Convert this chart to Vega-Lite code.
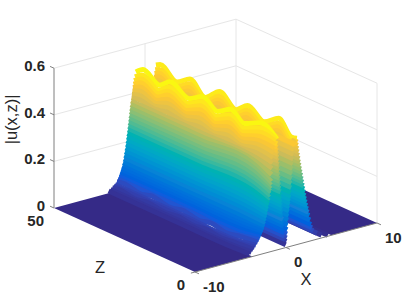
{"$schema":"https://vega.github.io/schema/vega-lite/v6.json","width":407,"height":303,"padding":0,"autosize":"none","background":"white","config":{"view":{"stroke":null}},
"datasets":{
"walls":[{"id":"w1","X":-10,"Z":50,"u":0.6},{"id":"w1","X":10,"Z":50,"u":0.6},{"id":"w2","X":-10,"Z":50,"u":0.4},{"id":"w2","X":10,"Z":50,"u":0.4},{"id":"w3","X":-10,"Z":50,"u":0.2},{"id":"w3","X":10,"Z":50,"u":0.2},{"id":"w4","X":10,"Z":50,"u":0.6},{"id":"w4","X":10,"Z":0,"u":0.6},{"id":"w5","X":10,"Z":50,"u":0.4},{"id":"w5","X":10,"Z":0,"u":0.4},{"id":"w6","X":10,"Z":50,"u":0.2},{"id":"w6","X":10,"Z":0,"u":0.2},{"id":"v1","X":0,"Z":50,"u":0},{"id":"v1","X":0,"Z":50,"u":0.6},{"id":"v2","X":10,"Z":50,"u":0},{"id":"v2","X":10,"Z":50,"u":0.6},{"id":"v3","X":10,"Z":0,"u":0},{"id":"v3","X":10,"Z":0,"u":0.6}],
"axes":[{"id":"a1","X":-10,"Z":50,"u":0},{"id":"a1","X":-10,"Z":50,"u":0.6},{"id":"a2","X":-10,"Z":0,"u":0},{"id":"a2","X":10,"Z":0,"u":0},{"id":"t1","X":-10,"Z":50,"u":0},{"id":"t1","X":-10,"Z":51.4,"u":0},{"id":"t2","X":-10,"Z":50,"u":0.2},{"id":"t2","X":-10,"Z":51.4,"u":0.2},{"id":"t3","X":-10,"Z":50,"u":0.4},{"id":"t3","X":-10,"Z":51.4,"u":0.4},{"id":"t4","X":-10,"Z":50,"u":0.6},{"id":"t4","X":-10,"Z":51.4,"u":0.6},{"id":"t5","X":-10,"Z":0,"u":0},{"id":"t5","X":-10.45,"Z":0,"u":0},{"id":"t6","X":-10,"Z":0,"u":0},{"id":"t6","X":-10,"Z":-1.4,"u":0},{"id":"t7","X":0,"Z":0,"u":0},{"id":"t7","X":0,"Z":-1.4,"u":0},{"id":"t8","X":10,"Z":0,"u":0},{"id":"t8","X":10,"Z":-1.4,"u":0}],
"floor":[{"s":"far","n":1,"X":10,"Z":0,"u":0},{"s":"far","n":2,"X":10,"Z":50,"u":0},{"s":"far","n":3,"X":5,"Z":50,"u":0},{"s":"far","n":4,"X":5,"Z":0,"u":0},{"s":"near","n":1,"X":-3.7,"Z":0,"u":0},{"s":"near","n":2,"X":-3.7,"Z":50,"u":0},{"s":"near","n":3,"X":-10,"Z":50,"u":0},{"s":"near","n":4,"X":-10,"Z":0,"u":0}],
"surf":[
{"X":4.6,"Z":25,"u":0.004},{"X":4.6,"Z":0,"u":0.004},{"X":3.9,"Z":25,"u":0.012},{"X":3.9,"Z":0,"u":0.012},{"X":3.4,"Z":25,"u":0.025},{"X":3.4,"Z":0,"u":0.025},{"X":3,"Z":25,"u":0.04},{"X":3,"Z":0,"u":0.04},{"X":2.85,"Z":25,"u":0.055},{"X":2.85,"Z":0,"u":0.055},{"X":2.75,"Z":25,"u":0.07},{"X":2.75,"Z":0,"u":0.07},{"X":2.65,"Z":25,"u":0.09},{"X":2.65,"Z":0,"u":0.09},{"X":2.55,"Z":25,"u":0.11},{"X":2.55,"Z":0,"u":0.11},{"X":2.47,"Z":25,"u":0.125},{"X":2.47,"Z":0,"u":0.125},{"X":2.4,"Z":25,"u":0.14},{"X":2.4,"Z":0,"u":0.14},{"X":2.32,"Z":25,"u":0.155},{"X":2.32,"Z":0,"u":0.155},{"X":2.25,"Z":25,"u":0.17},{"X":2.25,"Z":0,"u":0.17},{"X":2.18,"Z":25,"u":0.185},{"X":2.18,"Z":0,"u":0.185},{"X":2.12,"Z":25,"u":0.2},{"X":2.12,"Z":0,"u":0.2},{"X":2.06,"Z":25,"u":0.215},{"X":2.06,"Z":0,"u":0.215},{"X":2,"Z":25,"u":0.23},{"X":2,"Z":0,"u":0.23},{"X":1.94,"Z":25,"u":0.245},{"X":1.94,"Z":0,"u":0.245},{"X":1.88,"Z":25,"u":0.26},{"X":1.88,"Z":0,"u":0.26},{"X":1.82,"Z":25,"u":0.275},{"X":1.82,"Z":0,"u":0.275},{"X":1.76,"Z":25,"u":0.29},{"X":1.76,"Z":0,"u":0.29},{"X":1.7,"Z":25,"u":0.305},{"X":1.7,"Z":0,"u":0.305},{"X":1.64,"Z":25,"u":0.32},{"X":1.64,"Z":0,"u":0.32},{"X":1.58,"Z":25,"u":0.335},{"X":1.58,"Z":0,"u":0.335},{"X":1.52,"Z":25,"u":0.35},{"X":1.52,"Z":0,"u":0.35},{"X":1.47,"Z":25,"u":0.365},{"X":1.47,"Z":0,"u":0.365},{"X":1.42,"Z":25,"u":0.38},{"X":1.42,"Z":0,"u":0.38},{"X":1.375,"Z":25,"u":0.395},{"X":1.375,"Z":0,"u":0.395},{"X":1.33,"Z":25,"u":0.41},{"X":1.33,"Z":0,"u":0.41},{"X":1.29,"Z":25,"u":0.425},{"X":1.29,"Z":0,"u":0.425},{"X":1.25,"Z":25,"u":0.44},{"X":1.25,"Z":0,"u":0.44},
{"X":1.2,"Z":50,"u":0.496},{"X":1.2,"Z":48.5,"u":0.506},{"X":1.2,"Z":42.5,"u":0.464},{"X":1.2,"Z":38,"u":0.502},{"X":1.2,"Z":32.5,"u":0.453},{"X":1.2,"Z":27.5,"u":0.506},{"X":1.2,"Z":21.5,"u":0.461},{"X":1.2,"Z":17.5,"u":0.501},{"X":1.2,"Z":11.5,"u":0.464},{"X":1.2,"Z":6.5,"u":0.506},{"X":1.2,"Z":2,"u":0.451},{"X":1.2,"Z":0,"u":0.456},
{"X":1.125,"Z":50,"u":0.476},{"X":1.125,"Z":48.5,"u":0.486},{"X":1.125,"Z":42.5,"u":0.444},{"X":1.125,"Z":38,"u":0.482},{"X":1.125,"Z":32.5,"u":0.433},{"X":1.125,"Z":27.5,"u":0.486},{"X":1.125,"Z":21.5,"u":0.441},{"X":1.125,"Z":17.5,"u":0.481},{"X":1.125,"Z":11.5,"u":0.444},{"X":1.125,"Z":6.5,"u":0.486},{"X":1.125,"Z":2,"u":0.436},{"X":1.125,"Z":0,"u":0.45},
{"X":1.05,"Z":50,"u":0.461},{"X":1.05,"Z":48.5,"u":0.471},{"X":1.05,"Z":42.5,"u":0.429},{"X":1.05,"Z":38,"u":0.467},{"X":1.05,"Z":32.5,"u":0.418},{"X":1.05,"Z":27.5,"u":0.471},{"X":1.05,"Z":21.5,"u":0.426},{"X":1.05,"Z":17.5,"u":0.466},{"X":1.05,"Z":11.5,"u":0.429},{"X":1.05,"Z":6.5,"u":0.471},{"X":1.05,"Z":2,"u":0.42},{"X":1.05,"Z":0,"u":0.445},
{"X":1,"Z":50,"u":0.446},{"X":1,"Z":48.5,"u":0.456},{"X":1,"Z":42.5,"u":0.414},{"X":1,"Z":38,"u":0.452},{"X":1,"Z":32.5,"u":0.403},{"X":1,"Z":27.5,"u":0.456},{"X":1,"Z":21.5,"u":0.411},{"X":1,"Z":17.5,"u":0.451},{"X":1,"Z":11.5,"u":0.414},{"X":1,"Z":6.5,"u":0.456},{"X":1,"Z":2,"u":0.41},{"X":1,"Z":0,"u":0.45},
{"X":0.95,"Z":50,"u":0.431},{"X":0.95,"Z":48.5,"u":0.441},{"X":0.95,"Z":42.5,"u":0.399},{"X":0.95,"Z":38,"u":0.437},{"X":0.95,"Z":32.5,"u":0.388},{"X":0.95,"Z":27.5,"u":0.441},{"X":0.95,"Z":21.5,"u":0.396},{"X":0.95,"Z":17.5,"u":0.436},{"X":0.95,"Z":11.5,"u":0.399},{"X":0.95,"Z":6.5,"u":0.441},{"X":0.95,"Z":2,"u":0.42},{"X":0.95,"Z":0,"u":0.455},
{"X":0.9,"Z":25,"u":0.435},{"X":0.9,"Z":0,"u":0.435},{"X":0.85,"Z":25,"u":0.41},{"X":0.85,"Z":0,"u":0.41},{"X":0.81,"Z":25,"u":0.39},{"X":0.81,"Z":0,"u":0.39},{"X":0.77,"Z":25,"u":0.37},{"X":0.77,"Z":0,"u":0.37},{"X":0.735,"Z":25,"u":0.35},{"X":0.735,"Z":0,"u":0.35},{"X":0.7,"Z":25,"u":0.33},{"X":0.7,"Z":0,"u":0.33},{"X":0.66,"Z":25,"u":0.31},{"X":0.66,"Z":0,"u":0.31},{"X":0.62,"Z":25,"u":0.29},{"X":0.62,"Z":0,"u":0.29},{"X":0.585,"Z":25,"u":0.27},{"X":0.585,"Z":0,"u":0.27},{"X":0.55,"Z":25,"u":0.25},{"X":0.55,"Z":0,"u":0.25},{"X":0.51,"Z":25,"u":0.23},{"X":0.51,"Z":0,"u":0.23},{"X":0.47,"Z":25,"u":0.21},{"X":0.47,"Z":0,"u":0.21},{"X":0.425,"Z":25,"u":0.195},{"X":0.425,"Z":0,"u":0.195},{"X":0.38,"Z":25,"u":0.18},{"X":0.38,"Z":0,"u":0.18},{"X":0.34,"Z":25,"u":0.165},{"X":0.34,"Z":0,"u":0.165},{"X":0.3,"Z":25,"u":0.15},{"X":0.3,"Z":0,"u":0.15},{"X":0.26,"Z":25,"u":0.132},{"X":0.26,"Z":0,"u":0.132},{"X":0.22,"Z":25,"u":0.115},{"X":0.22,"Z":0,"u":0.115},{"X":0.18,"Z":25,"u":0.095},{"X":0.18,"Z":0,"u":0.095},{"X":0.14,"Z":25,"u":0.075},{"X":0.14,"Z":0,"u":0.075},{"X":0.105,"Z":25,"u":0.057},{"X":0.105,"Z":0,"u":0.057},{"X":0.07,"Z":25,"u":0.04},{"X":0.07,"Z":0,"u":0.04},{"X":0.035,"Z":25,"u":0.025},{"X":0.035,"Z":0,"u":0.025},
{"X":-0.03,"Z":16,"u":0.012},{"X":-0.03,"Z":0,"u":0.012},{"X":-0.1,"Z":16,"u":0.035},{"X":-0.1,"Z":0,"u":0.035},{"X":-0.14,"Z":16,"u":0.05},{"X":-0.14,"Z":0,"u":0.05},{"X":-0.18,"Z":16,"u":0.065},{"X":-0.18,"Z":0,"u":0.065},{"X":-0.22,"Z":16,"u":0.08},{"X":-0.22,"Z":0,"u":0.08},{"X":-0.26,"Z":16,"u":0.095},{"X":-0.26,"Z":0,"u":0.095},{"X":-0.3,"Z":16,"u":0.11},{"X":-0.3,"Z":0,"u":0.11},{"X":-0.335,"Z":16,"u":0.125},{"X":-0.335,"Z":0,"u":0.125},{"X":-0.37,"Z":16,"u":0.14},{"X":-0.37,"Z":0,"u":0.14},{"X":-0.405,"Z":16,"u":0.155},{"X":-0.405,"Z":0,"u":0.155},{"X":-0.44,"Z":16,"u":0.17},{"X":-0.44,"Z":0,"u":0.17},{"X":-0.47,"Z":16,"u":0.185},{"X":-0.47,"Z":0,"u":0.185},{"X":-0.5,"Z":16,"u":0.2},{"X":-0.5,"Z":0,"u":0.2},{"X":-0.53,"Z":16,"u":0.215},{"X":-0.53,"Z":0,"u":0.215},{"X":-0.56,"Z":16,"u":0.23},{"X":-0.56,"Z":0,"u":0.23},{"X":-0.59,"Z":16,"u":0.245},{"X":-0.59,"Z":0,"u":0.245},{"X":-0.62,"Z":16,"u":0.26},{"X":-0.62,"Z":0,"u":0.26},{"X":-0.65,"Z":16,"u":0.275},{"X":-0.65,"Z":0,"u":0.275},{"X":-0.68,"Z":16,"u":0.29},{"X":-0.68,"Z":0,"u":0.29},{"X":-0.71,"Z":16,"u":0.305},{"X":-0.71,"Z":0,"u":0.305},{"X":-0.74,"Z":16,"u":0.32},{"X":-0.74,"Z":0,"u":0.32},{"X":-0.765,"Z":16,"u":0.335},{"X":-0.765,"Z":0,"u":0.335},{"X":-0.79,"Z":16,"u":0.35},{"X":-0.79,"Z":0,"u":0.35},{"X":-0.815,"Z":16,"u":0.365},{"X":-0.815,"Z":0,"u":0.365},{"X":-0.84,"Z":16,"u":0.38},{"X":-0.84,"Z":0,"u":0.38},{"X":-0.865,"Z":16,"u":0.395},{"X":-0.865,"Z":0,"u":0.395},{"X":-0.89,"Z":16,"u":0.41},{"X":-0.89,"Z":0,"u":0.41},{"X":-0.915,"Z":16,"u":0.425},{"X":-0.915,"Z":0,"u":0.425},{"X":-0.94,"Z":16,"u":0.44},{"X":-0.94,"Z":0,"u":0.44},{"X":-0.97,"Z":16,"u":0.455},{"X":-0.97,"Z":0,"u":0.455},
{"X":-1,"Z":50,"u":0.489},{"X":-1,"Z":47.5,"u":0.513},{"X":-1,"Z":41.5,"u":0.479},{"X":-1,"Z":38,"u":0.513},{"X":-1,"Z":31,"u":0.479},{"X":-1,"Z":26.5,"u":0.513},{"X":-1,"Z":21,"u":0.479},{"X":-1,"Z":16.5,"u":0.513},{"X":-1,"Z":11.5,"u":0.479},{"X":-1,"Z":6,"u":0.513},{"X":-1,"Z":0,"u":0.476},
{"X":-1.1,"Z":50,"u":0.469},{"X":-1.1,"Z":47.5,"u":0.491},{"X":-1.1,"Z":41.5,"u":0.459},{"X":-1.1,"Z":38,"u":0.491},{"X":-1.1,"Z":31,"u":0.459},{"X":-1.1,"Z":26.5,"u":0.491},{"X":-1.1,"Z":21,"u":0.459},{"X":-1.1,"Z":16.5,"u":0.491},{"X":-1.1,"Z":11.5,"u":0.459},{"X":-1.1,"Z":6,"u":0.491},{"X":-1.1,"Z":0,"u":0.475},
{"X":-1.2,"Z":50,"u":0.454},{"X":-1.2,"Z":47.5,"u":0.475},{"X":-1.2,"Z":41.5,"u":0.445},{"X":-1.2,"Z":38,"u":0.475},{"X":-1.2,"Z":31,"u":0.445},{"X":-1.2,"Z":26.5,"u":0.475},{"X":-1.2,"Z":21,"u":0.445},{"X":-1.2,"Z":16.5,"u":0.475},{"X":-1.2,"Z":11.5,"u":0.445},{"X":-1.2,"Z":6,"u":0.475},{"X":-1.2,"Z":0,"u":0.47},
{"X":-1.265,"Z":50,"u":0.44},{"X":-1.265,"Z":47.5,"u":0.459},{"X":-1.265,"Z":41.5,"u":0.431},{"X":-1.265,"Z":38,"u":0.459},{"X":-1.265,"Z":31,"u":0.431},{"X":-1.265,"Z":26.5,"u":0.459},{"X":-1.265,"Z":21,"u":0.431},{"X":-1.265,"Z":16.5,"u":0.459},{"X":-1.265,"Z":11.5,"u":0.431},{"X":-1.265,"Z":6,"u":0.459},{"X":-1.265,"Z":0,"u":0.455},
{"X":-1.33,"Z":50,"u":0.426},{"X":-1.33,"Z":47.5,"u":0.442},{"X":-1.33,"Z":41.5,"u":0.418},{"X":-1.33,"Z":38,"u":0.442},{"X":-1.33,"Z":31,"u":0.418},{"X":-1.33,"Z":26.5,"u":0.442},{"X":-1.33,"Z":21,"u":0.418},{"X":-1.33,"Z":16.5,"u":0.442},{"X":-1.33,"Z":11.5,"u":0.418},{"X":-1.33,"Z":6,"u":0.442},{"X":-1.33,"Z":0,"u":0.44},
{"X":-1.385,"Z":50,"u":0.412},{"X":-1.385,"Z":47.5,"u":0.425},{"X":-1.385,"Z":41.5,"u":0.405},{"X":-1.385,"Z":38,"u":0.425},{"X":-1.385,"Z":31,"u":0.405},{"X":-1.385,"Z":26.5,"u":0.425},{"X":-1.385,"Z":21,"u":0.405},{"X":-1.385,"Z":16.5,"u":0.425},{"X":-1.385,"Z":11.5,"u":0.405},{"X":-1.385,"Z":6,"u":0.425},{"X":-1.385,"Z":0,"u":0.42},
{"X":-1.44,"Z":50,"u":0.398},{"X":-1.44,"Z":47.5,"u":0.408},{"X":-1.44,"Z":41.5,"u":0.392},{"X":-1.44,"Z":38,"u":0.408},{"X":-1.44,"Z":31,"u":0.392},{"X":-1.44,"Z":26.5,"u":0.408},{"X":-1.44,"Z":21,"u":0.392},{"X":-1.44,"Z":16.5,"u":0.408},{"X":-1.44,"Z":11.5,"u":0.392},{"X":-1.44,"Z":6,"u":0.408},{"X":-1.44,"Z":0,"u":0.4},
{"X":-1.485,"Z":50,"u":0.384},{"X":-1.485,"Z":47.5,"u":0.39},{"X":-1.485,"Z":41.5,"u":0.38},{"X":-1.485,"Z":38,"u":0.39},{"X":-1.485,"Z":31,"u":0.38},{"X":-1.485,"Z":26.5,"u":0.39},{"X":-1.485,"Z":21,"u":0.38},{"X":-1.485,"Z":16.5,"u":0.39},{"X":-1.485,"Z":11.5,"u":0.38},{"X":-1.485,"Z":6,"u":0.39},{"X":-1.485,"Z":0,"u":0.378},
{"X":-1.53,"Z":50,"u":0.37},{"X":-1.53,"Z":25,"u":0.37},{"X":-1.53,"Z":6,"u":0.37},{"X":-1.53,"Z":0,"u":0.355},
{"X":-1.575,"Z":50,"u":0.355},{"X":-1.575,"Z":25,"u":0.355},{"X":-1.575,"Z":6,"u":0.355},{"X":-1.575,"Z":0,"u":0.33},
{"X":-1.62,"Z":50,"u":0.34},{"X":-1.62,"Z":25,"u":0.34},{"X":-1.62,"Z":6,"u":0.34},{"X":-1.62,"Z":0,"u":0.3},
{"X":-1.66,"Z":50,"u":0.325},{"X":-1.66,"Z":25,"u":0.325},{"X":-1.66,"Z":6,"u":0.325},{"X":-1.66,"Z":0,"u":0.285},
{"X":-1.7,"Z":50,"u":0.31},{"X":-1.7,"Z":25,"u":0.31},{"X":-1.7,"Z":6,"u":0.31},{"X":-1.7,"Z":0,"u":0.27},
{"X":-1.745,"Z":50,"u":0.295},{"X":-1.745,"Z":25,"u":0.295},{"X":-1.745,"Z":6,"u":0.295},{"X":-1.745,"Z":0,"u":0.26},
{"X":-1.79,"Z":50,"u":0.28},{"X":-1.79,"Z":25,"u":0.28},{"X":-1.79,"Z":6,"u":0.28},{"X":-1.79,"Z":0,"u":0.25},
{"X":-1.835,"Z":50,"u":0.265},{"X":-1.835,"Z":25,"u":0.265},{"X":-1.835,"Z":6,"u":0.265},{"X":-1.835,"Z":0,"u":0.235},
{"X":-1.88,"Z":50,"u":0.25},{"X":-1.88,"Z":25,"u":0.25},{"X":-1.88,"Z":6,"u":0.25},{"X":-1.88,"Z":0,"u":0.22},
{"X":-1.93,"Z":50,"u":0.235},{"X":-1.93,"Z":25,"u":0.235},{"X":-1.93,"Z":6,"u":0.235},{"X":-1.93,"Z":0,"u":0.21},
{"X":-1.98,"Z":50,"u":0.22},{"X":-1.98,"Z":25,"u":0.22},{"X":-1.98,"Z":6,"u":0.22},{"X":-1.98,"Z":0,"u":0.2},
{"X":-2.03,"Z":50,"u":0.205},{"X":-2.03,"Z":25,"u":0.205},{"X":-2.03,"Z":6,"u":0.205},{"X":-2.03,"Z":0,"u":0.187},
{"X":-2.08,"Z":50,"u":0.19},{"X":-2.08,"Z":25,"u":0.19},{"X":-2.08,"Z":6,"u":0.19},{"X":-2.08,"Z":0,"u":0.175},
{"X":-2.14,"Z":50,"u":0.175},{"X":-2.14,"Z":25,"u":0.175},{"X":-2.14,"Z":6,"u":0.175},{"X":-2.14,"Z":0,"u":0.162},
{"X":-2.2,"Z":50,"u":0.16},{"X":-2.2,"Z":25,"u":0.16},{"X":-2.2,"Z":6,"u":0.16},{"X":-2.2,"Z":0,"u":0.15},
{"X":-2.265,"Z":50,"u":0.145},{"X":-2.265,"Z":25,"u":0.145},{"X":-2.265,"Z":6,"u":0.145},{"X":-2.265,"Z":0,"u":0.137},
{"X":-2.33,"Z":50,"u":0.13},{"X":-2.33,"Z":25,"u":0.13},{"X":-2.33,"Z":6,"u":0.13},{"X":-2.33,"Z":0,"u":0.125},
{"X":-2.41,"Z":50,"u":0.115},{"X":-2.41,"Z":25,"u":0.115},{"X":-2.41,"Z":6,"u":0.115},{"X":-2.41,"Z":0,"u":0.112},
{"X":-2.5,"Z":50,"u":0.1},{"X":-2.5,"Z":25,"u":0.1},{"X":-2.5,"Z":6,"u":0.1},{"X":-2.5,"Z":0,"u":0.1},
{"X":-2.58,"Z":50,"u":0.09},{"X":-2.58,"Z":25,"u":0.09},{"X":-2.58,"Z":6,"u":0.09},{"X":-2.58,"Z":0,"u":0.095},
{"X":-2.67,"Z":50,"u":0.08},{"X":-2.67,"Z":25,"u":0.08},{"X":-2.67,"Z":6,"u":0.08},{"X":-2.67,"Z":0,"u":0.087},
{"X":-2.76,"Z":50,"u":0.07},{"X":-2.76,"Z":25,"u":0.07},{"X":-2.76,"Z":6,"u":0.07},{"X":-2.76,"Z":0,"u":0.08},
{"X":-2.86,"Z":50,"u":0.06},{"X":-2.86,"Z":25,"u":0.06},{"X":-2.86,"Z":6,"u":0.06},{"X":-2.86,"Z":0,"u":0.073},
{"X":-2.97,"Z":50,"u":0.05},{"X":-2.97,"Z":25,"u":0.05},{"X":-2.97,"Z":6,"u":0.05},{"X":-2.97,"Z":0,"u":0.065},
{"X":-3.1,"Z":50,"u":0.04},{"X":-3.1,"Z":47.5,"u":0.046},{"X":-3.1,"Z":41.5,"u":0.034},{"X":-3.1,"Z":38,"u":0.046},{"X":-3.1,"Z":31,"u":0.034},{"X":-3.1,"Z":26.5,"u":0.046},{"X":-3.1,"Z":21,"u":0.034},{"X":-3.1,"Z":16.5,"u":0.046},{"X":-3.1,"Z":11.5,"u":0.034},{"X":-3.1,"Z":6,"u":0.046},{"X":-3.1,"Z":0,"u":0.055},
{"X":-3.3,"Z":50,"u":0.03},{"X":-3.3,"Z":25,"u":0.03},{"X":-3.3,"Z":6,"u":0.03},{"X":-3.3,"Z":0,"u":0.045},
{"X":-3.45,"Z":50,"u":0.025},{"X":-3.45,"Z":25,"u":0.025},{"X":-3.45,"Z":6,"u":0.025},{"X":-3.45,"Z":0,"u":0.037},
{"X":-3.6,"Z":50,"u":0.02},{"X":-3.6,"Z":47.5,"u":0.024},{"X":-3.6,"Z":41.5,"u":0.016},{"X":-3.6,"Z":38,"u":0.024},{"X":-3.6,"Z":31,"u":0.016},{"X":-3.6,"Z":26.5,"u":0.024},{"X":-3.6,"Z":21,"u":0.016},{"X":-3.6,"Z":16.5,"u":0.024},{"X":-3.6,"Z":11.5,"u":0.016},{"X":-3.6,"Z":6,"u":0.024},{"X":-3.6,"Z":0,"u":0.03},
{"X":-3.8,"Z":50,"u":0.014},{"X":-3.8,"Z":25,"u":0.014},{"X":-3.8,"Z":6,"u":0.014},{"X":-3.8,"Z":0,"u":0.02},
{"X":-4,"Z":50,"u":0.01},{"X":-4,"Z":25,"u":0.01},{"X":-4,"Z":6,"u":0.01},{"X":-4,"Z":0,"u":0.014}
],
"tu":[{"t":"0","X":-10,"Z":50,"u":0},{"t":"0.2","X":-10,"Z":50,"u":0.2},{"t":"0.4","X":-10,"Z":50,"u":0.4},{"t":"0.6","X":-10,"Z":50,"u":0.6}],
"tz":[{"t":"50","X":-10,"Z":50,"u":0},{"t":"0","X":-10,"Z":0,"u":0}],
"tx":[{"t":"-10","X":-10,"Z":0,"u":0},{"t":"0","X":0,"Z":0,"u":0},{"t":"10","X":10,"Z":0,"u":0}],
"ty":[{"t":"|u(x,z)|","X":-10,"Z":50,"u":0.38}],
"tzt":[{"t":"Z","X":-10,"Z":25,"u":0}],
"txt":[{"t":"X","X":0,"Z":0,"u":0}]
},
"encoding":{"x":{"field":"sx","type":"quantitative","scale":{"domain":[0,407]},"axis":null},"y":{"field":"sy","type":"quantitative","scale":{"domain":[303,0]},"axis":null}},
"layer":[
{"data":{"name":"walls"},"transform":[{"calculate":"195+9.1*(datum.X+10)-2.82*datum.Z","as":"sx"},{"calculate":"272-2.45*(datum.X+10)-1.28*datum.Z-233*datum.u","as":"sy"}],"mark":{"type":"line","stroke":"#e6e6e6","strokeWidth":1},"encoding":{"detail":{"field":"id"}}},
{"data":{"name":"floor"},"transform":[{"calculate":"195+9.1*(datum.X+10)-2.82*datum.Z","as":"sx"},{"calculate":"272-2.45*(datum.X+10)-1.28*datum.Z-233*datum.u","as":"sy"}],"mark":{"type":"line","filled":true,"fill":"#352a87","stroke":null},"encoding":{"detail":{"field":"s"},"order":{"field":"n"}}},
{"data":{"name":"surf"},"transform":[{"calculate":"195+9.1*(datum.X+10)-2.82*datum.Z","as":"sx"},{"calculate":"272-2.45*(datum.X+10)-1.28*datum.Z-233*datum.u","as":"sy"},{"joinaggregate":[{"op":"mean","field":"u","as":"level"}],"groupby":["X"]}],"mark":{"type":"line","strokeWidth":5,"interpolate":"monotone"},"encoding":{"detail":{"field":"X"},"order":{"field":"Z","sort":"descending"},"color":{"field":"level","type":"quantitative","legend":null,"scale":{"domain":[0,0.0625,0.125,0.1875,0.25,0.3125,0.375,0.4375,0.5],"range":["#352a87","#0f5cdd","#1481d6","#06a4ca","#2eb7a4","#87bf77","#d1bb59","#fec832","#f9fb0e"],"clamp":true}}}},
{"data":{"name":"axes"},"transform":[{"calculate":"195+9.1*(datum.X+10)-2.82*datum.Z","as":"sx"},{"calculate":"272-2.45*(datum.X+10)-1.28*datum.Z-233*datum.u","as":"sy"}],"mark":{"type":"line","stroke":"#7f7f7f","strokeWidth":1},"encoding":{"detail":{"field":"id"}}},
{"data":{"name":"tu"},"transform":[{"calculate":"195+9.1*(datum.X+10)-2.82*datum.Z","as":"sx"},{"calculate":"272-2.45*(datum.X+10)-1.28*datum.Z-233*datum.u","as":"sy"}],"mark":{"type":"text","font":"Liberation Sans","fontWeight":"bold","fontSize":15,"color":"#262626","align":"right","baseline":"middle","dx":-9,"dy":-2},"encoding":{"text":{"field":"t"}}},
{"data":{"name":"tz"},"transform":[{"calculate":"195+9.1*(datum.X+10)-2.82*datum.Z","as":"sx"},{"calculate":"272-2.45*(datum.X+10)-1.28*datum.Z-233*datum.u","as":"sy"}],"mark":{"type":"text","font":"Liberation Sans","fontWeight":"bold","fontSize":15,"color":"#262626","align":"right","baseline":"middle","dx":-10,"dy":13},"encoding":{"text":{"field":"t"}}},
{"data":{"name":"tx"},"transform":[{"calculate":"195+9.1*(datum.X+10)-2.82*datum.Z","as":"sx"},{"calculate":"272-2.45*(datum.X+10)-1.28*datum.Z-233*datum.u","as":"sy"}],"mark":{"type":"text","font":"Liberation Sans","fontWeight":"bold","fontSize":15,"color":"#262626","align":"left","baseline":"middle","dx":8,"dy":14.5},"encoding":{"text":{"field":"t"}}},
{"data":{"name":"ty"},"transform":[{"calculate":"195+9.1*(datum.X+10)-2.82*datum.Z","as":"sx"},{"calculate":"272-2.45*(datum.X+10)-1.28*datum.Z-233*datum.u","as":"sy"}],"mark":{"type":"text","font":"Liberation Sans","fontSize":16.5,"color":"#262626","align":"center","baseline":"middle","angle":270,"dy":-42},"encoding":{"text":{"field":"t"}}},
{"data":{"name":"tzt"},"transform":[{"calculate":"195+9.1*(datum.X+10)-2.82*datum.Z","as":"sx"},{"calculate":"272-2.45*(datum.X+10)-1.28*datum.Z-233*datum.u","as":"sy"}],"mark":{"type":"text","font":"Liberation Sans","fontSize":16.5,"color":"#262626","align":"center","baseline":"middle","dx":-24.5,"dy":28},"encoding":{"text":{"field":"t"}}},
{"data":{"name":"txt"},"transform":[{"calculate":"195+9.1*(datum.X+10)-2.82*datum.Z","as":"sx"},{"calculate":"272-2.45*(datum.X+10)-1.28*datum.Z-233*datum.u","as":"sy"}],"mark":{"type":"text","font":"Liberation Sans","fontSize":16.5,"color":"#262626","align":"center","baseline":"middle","dx":20,"dy":32},"encoding":{"text":{"field":"t"}}}
]}
